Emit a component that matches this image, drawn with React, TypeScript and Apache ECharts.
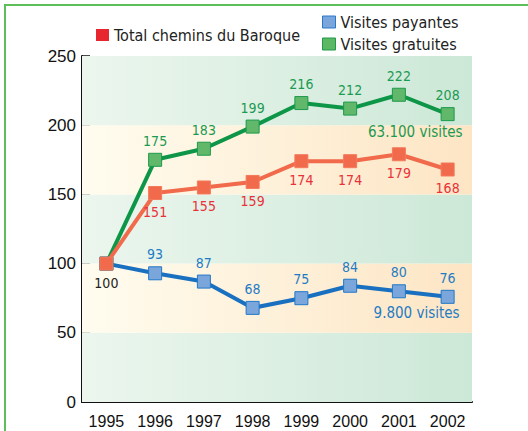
import React, { useEffect, useRef } from "react";
import * as echarts from "echarts";

const years = ["1995", "1996", "1997", "1998", "1999", "2000", "2001", "2002"];
const totalValues = [100, 151, 155, 159, 174, 174, 179, 168];
const payantesValues = [100, 93, 87, 68, 75, 84, 80, 76];
const gratuitesValues = [100, 175, 183, 199, 216, 212, 222, 208];
const yTicks = { min: 0, max: 250, interval: 50 };
const bandEdges = [0, 50, 100, 150, 200, 250];
const gratuitesNote = { text: "63.100 visites", value: 195 };
const payantesNote = { text: "9.800 visites", value: 64 };

const NARROW = "'Liberation Sans Narrow', 'DejaVu Sans Condensed', 'Arial Narrow', sans-serif";
const REG = "'Liberation Sans', Arial, sans-serif";

const greenGrad = () =>
  new echarts.graphic.LinearGradient(0, 0, 1, 0, [
    { offset: 0, color: "#ecf6ee" },
    { offset: 1, color: "#cce8d7" },
  ]);
const peachGrad = () =>
  new echarts.graphic.LinearGradient(0, 0, 1, 0, [
    { offset: 0, color: "#fffcef" },
    { offset: 1, color: "#fde5c4" },
  ]);

export default function App() {
  const ref = useRef<HTMLDivElement>(null);
  useEffect(() => {
    if (!ref.current) return;
    const chart = echarts.init(ref.current, null, { renderer: "svg" });

    const bands = bandEdges.slice(0, -1).map((lo, i) => [
      { yAxis: lo, itemStyle: { color: i % 2 === 0 ? greenGrad() : peachGrad() } },
      { yAxis: bandEdges[i + 1] },
    ]);

    const mkData = (vals: number[], showFirst: boolean, firstColor?: string) =>
      vals.map((v, i) =>
        i === 0
          ? { value: v, label: showFirst ? { show: true, color: firstColor } : { show: false } }
          : v
      );

    const option = {
      animation: false,
      backgroundColor: "#ffffff",
      grid: { left: 82, right: 56, top: 56, bottom: 29 },
      legend: [
        {
          left: 91,
          top: 22,
          icon: "rect",
          itemWidth: 13,
          itemHeight: 12,
          itemGap: 5,
          textStyle: { fontFamily: NARROW, fontSize: 16, color: "#222" },
          data: [{ name: "Total chemins du Baroque", itemStyle: { color: "#e8262f", borderWidth: 0 } }],
        },
        {
          left: 317,
          top: 9,
          orient: "vertical",
          itemGap: 6,
          icon: "rect",
          itemWidth: 13,
          itemHeight: 12,
          textStyle: { fontFamily: NARROW, fontSize: 16, color: "#222" },
          data: [
            { name: "Visites payantes", itemStyle: { color: "#7aa6dc", borderColor: "#2a78c8", borderWidth: 1 } },
            { name: "Visites gratuites", itemStyle: { color: "#5cb863", borderColor: "#1f9a4a", borderWidth: 1 } },
          ],
        },
      ],
      xAxis: {
        type: "category",
        data: years,
        boundaryGap: true,
        axisLine: { lineStyle: { color: "#111", width: 2 } },
        axisTick: { inside: true, length: 8, lineStyle: { color: "#111", width: 1.5 } },
        axisLabel: { fontFamily: REG, fontSize: 16, color: "#111", margin: 11 },
        splitLine: { show: false },
      },
      yAxis: {
        type: "value",
        min: yTicks.min,
        max: yTicks.max,
        interval: yTicks.interval,
        axisLine: { show: true, lineStyle: { color: "#111", width: 2 } },
        axisTick: { show: true, inside: true, length: 8, lineStyle: { color: "#111", width: 1.5 } },
        axisLabel: { fontFamily: REG, fontSize: 17, color: "#111", margin: 6 },
        splitLine: { show: false },
      },
      series: [
        {
          name: "Visites gratuites",
          type: "line",
          data: mkData(gratuitesValues, false),
          symbol: "rect",
          symbolSize: 13,
          lineStyle: { color: "#0e9648", width: 4 },
          itemStyle: { color: "#62b86a", borderColor: "#1c9a4c", borderWidth: 1 },
          label: { show: true, position: "top", distance: 5, fontFamily: NARROW, fontSize: 14, color: "#1b9a52" },
          markArea: { silent: true, data: bands },
          markPoint: {
            symbolSize: 0,
            data: [
              {
                coord: [years[years.length - 1], gratuitesNote.value],
                label: {
                  show: true,
                  position: "inside",
                  formatter: gratuitesNote.text,
                  align: "right",
                  offset: [15, 0],
                  fontFamily: NARROW,
                  fontSize: 15,
                  color: "#1b9a52",
                },
              },
            ],
          },
          z: 3,
        },
        {
          name: "Visites payantes",
          type: "line",
          data: mkData(payantesValues, false),
          symbol: "rect",
          symbolSize: 13,
          lineStyle: { color: "#1a70c0", width: 4 },
          itemStyle: { color: "#7aa6dc", borderColor: "#2178c8", borderWidth: 1 },
          label: { show: true, position: "top", distance: 5, fontFamily: NARROW, fontSize: 14, color: "#1f7cc4" },
          markPoint: {
            symbolSize: 0,
            data: [
              {
                coord: [years[years.length - 1], payantesNote.value],
                label: {
                  show: true,
                  position: "inside",
                  formatter: payantesNote.text,
                  align: "right",
                  offset: [12, 0],
                  fontFamily: NARROW,
                  fontSize: 15,
                  color: "#1f7cc4",
                },
              },
            ],
          },
          z: 3,
        },
        {
          name: "Total chemins du Baroque",
          type: "line",
          data: mkData(totalValues, true, "#222"),
          symbol: "rect",
          symbolSize: 13,
          lineStyle: { color: "#f06a4b", width: 4 },
          itemStyle: { color: "#f06a4b", borderColor: "#f37a5c", borderWidth: 1 },
          label: { show: true, position: "bottom", distance: 5, fontFamily: NARROW, fontSize: 14, color: "#e8323a" },
          z: 4,
        },
      ],
      graphic: [
        {
          type: "rect",
          shape: { x: 5, y: 5, width: 600, height: 600 },
          style: { fill: "none", stroke: "#5cbf5a", lineWidth: 2 },
          silent: true,
          z: 100,
        },
      ],
    };
    chart.setOption(option as any);
    return () => chart.dispose();
  }, []);
  return (
    <div
      ref={ref}
      style={{ position: "fixed", left: 0, top: 0, width: 528, height: 431 }}
    />
  );
}
